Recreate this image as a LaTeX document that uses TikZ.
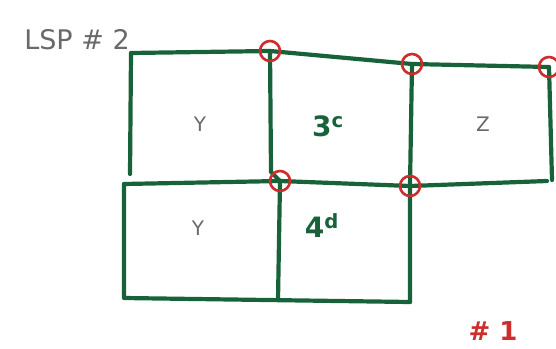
\documentclass[tikz,border=0pt]{standalone}
\usepackage{fontspec}
\setmainfont{DejaVu Sans}
\usetikzlibrary{positioning}
\definecolor{penGreen}{RGB}{24,98,58}
\definecolor{penRed}{RGB}{205,45,45}
\definecolor{penGray}{RGB}{105,105,105}

\begin{document}
\begin{tikzpicture}[x=1pt, y=-1pt,
  wall/.style={penGreen, line width=4.2pt, line cap=round, line join=round},
  joint/.style={circle, draw=penRed, line width=2.6pt, minimum size=20pt, inner sep=0pt},
  cell/.style={font=\fontsize{20}{24}\selectfont, penGray},
  numcell/.style={font=\fontsize{28}{32}\selectfont\bfseries, penGreen}
]
\useasboundingbox (0,0) rectangle (556,348);

%% Grid corners
\coordinate (a1) at (131,53);
\coordinate (a2) at (270,51);
\coordinate (a3) at (412,64);
\coordinate (a4) at (549,67);
\coordinate (l1) at (130,174);
\coordinate (m2) at (271,172);
\coordinate (b1) at (124,184);
\coordinate (b2) at (280,181);
\coordinate (b3) at (410,186);
\coordinate (b4) at (547,181);
\coordinate (r4) at (552,180);
\coordinate (c1) at (124,298);
\coordinate (c2) at (278,300);
\coordinate (c3) at (410,302);

%% Walls
\draw[wall] (a1) -- (a2) -- (a3) -- (a4);
\draw[wall] (a1) -- (l1);
\draw[wall] (a2) -- (m2) -- (b2) -- (c2);
\draw[wall] (a3) -- (b3) -- (c3);
\draw[wall] (a4) -- (r4);
\draw[wall] (b1) -- (b2) -- (b3) -- (b4);
\draw[wall] (b1) -- (c1) -- (c3);

%% Joints
\node[joint] (j1) at (a2) {};
\node[joint] (j2) at (a3) {};
\node[joint] (j3) at (a4) {};
\node[joint] (j4) at (b2) {};
\node[joint] (j5) at (b3) {};

%% Cell labels
\node[cell]    (y1) at (200,124) {Y};
\node[cell]    (y2) at (198,228) {Y};
\node[cell]    (z1) at (483,124) {Z};
\node[numcell] (n3) at (328,126) {3$^{\mathbf{c}}$};
\node[numcell] (n4) at (322,226) {4$^{\mathbf{d}}$};

%% Titles
\node[font=\fontsize{27}{31}\selectfont, penGray]          (lsp) at (77,40)   {LSP \# 2};
\node[font=\fontsize{26}{30}\selectfont\bfseries, penRed]  (one) at (493,331) {\# 1};
\end{tikzpicture}
\end{document}
